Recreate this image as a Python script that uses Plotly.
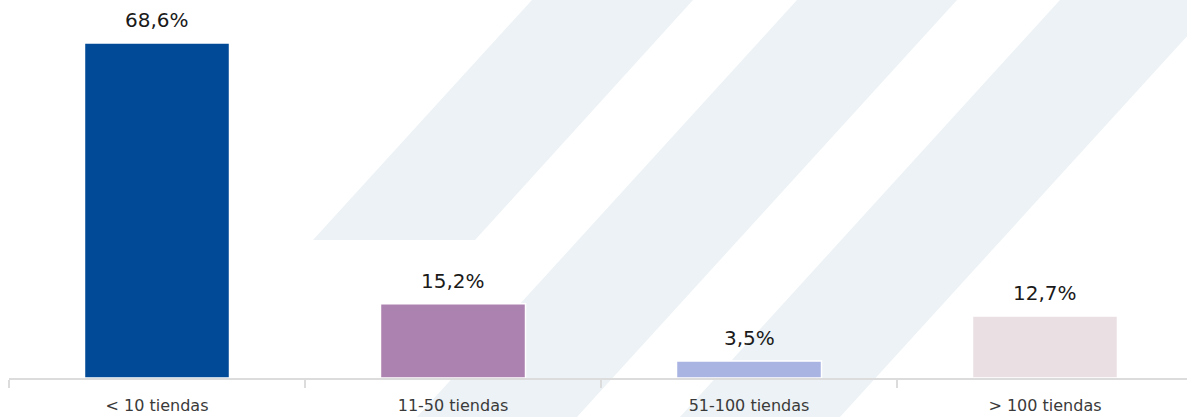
import plotly.graph_objects as go

categories = ["< 10 tiendas", "11-50 tiendas", "51-100 tiendas", "> 100 tiendas"]
values = [68.6, 15.2, 3.5, 12.7]
value_labels = ["68,6%", "15,2%", "3,5%", "12,7%"]
bar_colors = ["#004A97", "#AC82B0", "#AAB4E2", "#EAE0E3"]

W, H = 1187, 417
L, T, B = 9, 0, 39
plot_w = W - L
plot_h = H - T - B

FONT = "DejaVu Sans"

def px(x, y):
    return (x - L) / plot_w, (H - B - y) / plot_h

stripes = [
    [(532, 0), (693, 0), (475, 240), (313, 240)],
    [(797, 0), (957, 0), (556, 440), (396, 440)],
    [(1060, 0), (1220, 0), (819, 440), (659, 440)],
]

fig = go.Figure()
fig.add_trace(go.Bar(
    x=categories, y=values,
    marker=dict(color=bar_colors, line=dict(color="white", width=1.5)),
    width=0.49, hoverinfo="skip",
))

for c, v, t in zip(categories, values, value_labels):
    fig.add_annotation(x=c, y=v, text=t, showarrow=False, yanchor="bottom",
                       yshift=9, font=dict(size=20, color="#1a1a1a", family=FONT))

shapes = []
for poly in stripes:
    pts = [px(x, y) for x, y in poly]
    path = "M " + " L ".join(f"{a:.5f},{b:.5f}" for a, b in pts) + " Z"
    shapes.append(dict(type="path", path=path, xref="paper", yref="paper",
                       fillcolor="#ECF2F5", line=dict(width=0), layer="below"))

fig.update_layout(
    width=W, height=H,
    margin=dict(l=L, r=0, t=T, b=B),
    paper_bgcolor="white", plot_bgcolor="rgba(0,0,0,0)",
    showlegend=False, shapes=shapes,
    font=dict(family=FONT),
)
fig.update_xaxes(
    range=[-0.5, -0.5 + plot_w / 296], showgrid=False, zeroline=False,
    showline=True, linecolor="#DCDCDC", linewidth=2,
    ticks="outside", tickson="boundaries", ticklen=8, tickcolor="#DCDCDC", tickwidth=1.5,
    ticklabelstandoff=12,
    tickfont=dict(size=16, color="#3a3a3a", family=FONT),
)
fig.update_yaxes(range=[0, 77.4], visible=False, showgrid=False)

fig.write_html("out.html", config={"displayModeBar": False},
               post_script="document.body.style.margin='0';document.body.style.overflow='hidden';")
